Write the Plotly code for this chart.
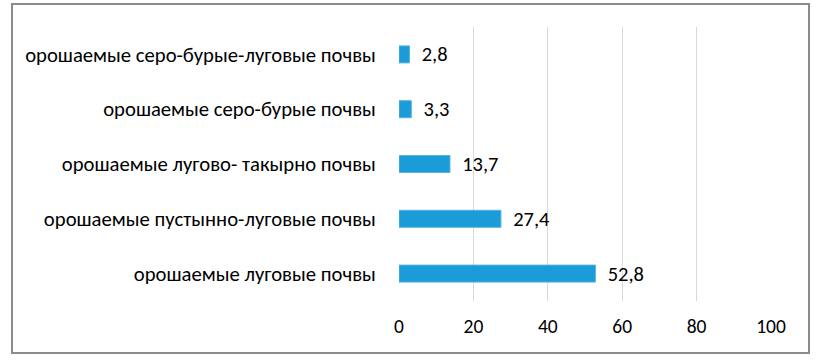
import plotly.graph_objects as go

categories = [
    "орошаемые луговые почвы",
    "орошаемые пустынно-луговые почвы",
    "орошаемые лугово- такырно почвы",
    "орошаемые серо-бурые почвы",
    "орошаемые серо-бурые-луговые почвы",
]
values = [52.8, 27.4, 13.7, 3.3, 2.8]
value_labels = ["52,8", "27,4", "13,7", "3,3", "2,8"]
tick_vals = [0, 20, 40, 60, 80, 100]

W, H = 820, 364
L, R, T, B = 399, 49, 27, 63
pw, ph = W - L - R, H - T - B
FS = 20.7

fig = go.Figure(go.Bar(
    y=categories, x=values, orientation="h",
    marker=dict(color="#1B9BD7", line=dict(color="#4FB3E3", width=1)),
    width=0.31,
    text=["  " + t for t in value_labels], textposition="outside",
    constraintext="none",
    textfont=dict(size=20.5, color="#000000"),
    cliponaxis=False,
    hoverinfo="skip",
))

fig.update_layout(
    width=W, height=H,
    margin=dict(l=L, r=R, t=T, b=B, pad=0, autoexpand=False),
    paper_bgcolor="white", plot_bgcolor="white",
    font=dict(family="Carlito, Lato, 'Open Sans', sans-serif", size=FS, color="#000000"),
    showlegend=False,
    xaxis=dict(range=[0, 100], tickvals=tick_vals, showgrid=True, gridcolor="#D9D9D9",
               gridwidth=1, zeroline=False, showline=False, ticks="outside", ticklen=8,
               tickcolor="rgba(0,0,0,0)", automargin=False,
               tickfont=dict(size=19.5), fixedrange=True),
    yaxis=dict(categoryorder="array", categoryarray=categories, showgrid=False,
               zeroline=False, showline=False, ticks="outside", ticklen=18,
               automargin=False,
               tickcolor="rgba(0,0,0,0)", tickfont=dict(size=FS)),
    shapes=[dict(type="rect", xref="paper", yref="paper",
                 x0=(12 - L) / pw, x1=(809 - L) / pw,
                 y0=(T + ph - 353) / ph, y1=(T + ph - 4) / ph,
                 line=dict(color="#8C8C8C", width=2), fillcolor="rgba(0,0,0,0)",
                 layer="below")],
)

fig.write_html("out.html", config={"displayModeBar": False},
               post_script="document.body.style.margin='0';document.body.style.overflow='hidden';")
